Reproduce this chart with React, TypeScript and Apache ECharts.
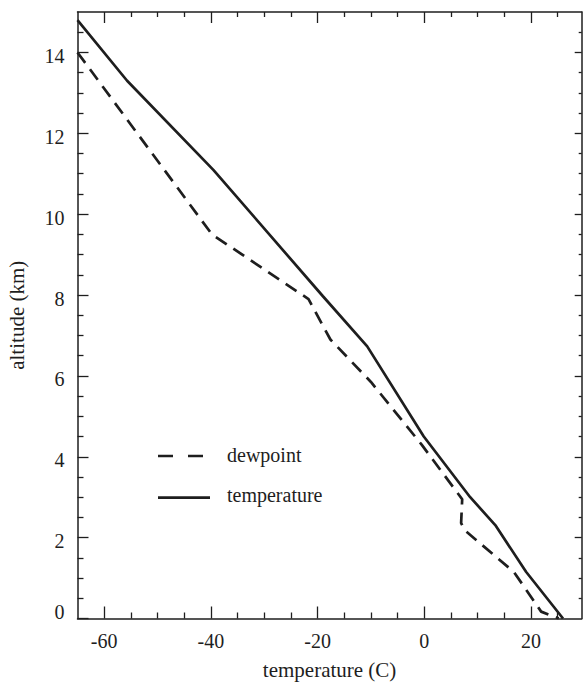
import React, { useEffect, useRef } from 'react';
import * as echarts from 'echarts';

// Tick values
const xMajorTicks = [-60, -40, -20, 0, 20];
const xMinorTicks = [-55, -50, -45, -35, -30, -25, -15, -10, -5, 5, 10, 15, 25];
const yMajorTicks = [0, 2, 4, 6, 8, 10, 12, 14];
const yMinorTicks = [0.5, 1, 1.5, 2.5, 3, 3.5, 4.5, 5, 5.5, 6.5, 7, 7.5, 8.5, 9, 9.5, 10.5, 11, 11.5, 12.5, 13, 13.5, 14.5];

// Temperature profile (solid)
const tempT = [-65, -55.7, -39.5, -19, -10.7, -0.1, 8.6, 13.3, 19.1, 26];
const tempAlt = [14.8, 13.3, 11.09, 7.97, 6.73, 4.5, 3.0, 2.31, 1.15, 0];

// Dewpoint profile (dashed)
const dewT = [-65, -39.8, -21.7, -17.6, -10, -0.5, 7.1, 6.9, 7.6, 16.8, 21.9, 25.2];
const dewAlt = [14.0, 9.5, 7.9, 6.9, 5.85, 4.3, 2.95, 2.36, 2.18, 1.15, 0.17, 0];

const seriesNames = ['dewpoint', 'temperature'];

const FONT = "'Liberation Serif', 'Times New Roman', Times, serif";
const INK = '#1e1e1e';

const X_MIN = -65;
const X_MAX = 29.5;
const Y_MIN = 0;
const Y_MAX = 15;

function xAxisDef(position: string, ticks: number[], len: number, main: boolean) {
  const labelled = main && position === 'bottom';
  return {
    type: 'value',
    position,
    min: X_MIN,
    max: X_MAX,
    gridIndex: 0,
    name: labelled ? 'temperature (C)' : '',
    nameLocation: 'middle',
    nameGap: 41,
    nameTextStyle: { fontFamily: FONT, fontSize: 21, color: INK },
    axisLine: { show: main, onZero: false, lineStyle: { color: INK, width: 1.5 } },
    axisTick: { show: true, inside: true, length: len, customValues: ticks, lineStyle: { color: INK, width: 1.3 } },
    axisLabel: labelled
      ? { show: true, customValues: xMajorTicks, margin: 12, fontFamily: FONT, fontSize: 20, color: INK }
      : { show: false },
    splitLine: { show: false },
  };
}

function yAxisDef(position: string, ticks: number[], len: number, main: boolean, hasLabel: boolean) {
  return {
    type: 'value',
    position,
    min: Y_MIN,
    max: Y_MAX,
    gridIndex: 0,
    name: hasLabel ? 'altitude (km)' : '',
    nameLocation: 'middle',
    nameGap: 50,
    nameRotate: 90,
    nameTextStyle: { fontFamily: FONT, fontSize: 21, color: INK },
    axisLine: { show: main, onZero: false, lineStyle: { color: INK, width: 1.5 } },
    axisTick: { show: true, inside: true, length: len, customValues: ticks, lineStyle: { color: INK, width: 1.3 } },
    axisLabel: hasLabel
      ? {
          show: true,
          customValues: yMajorTicks,
          margin: 13,
          fontFamily: FONT,
          fontSize: 20,
          color: INK,
          padding: [7, 0, 0, 0],
          formatter: (v: number) => (v === 0 ? '{z|0}' : String(v)),
          rich: { z: { fontFamily: FONT, fontSize: 20, color: INK, padding: [0, 0, 20, 0] } },
        }
      : { show: false },
    splitLine: { show: false },
  };
}

export default function App() {
  const ref = useRef<HTMLDivElement>(null);

  useEffect(() => {
    if (!ref.current) return;
    const chart = echarts.init(ref.current, undefined, { renderer: 'svg' });

    const tempData = tempT.map((t, i) => [t, tempAlt[i]]);
    const dewData = dewT.map((t, i) => [t, dewAlt[i]]);

    const option = {
      animation: false,
      backgroundColor: '#ffffff',
      textStyle: { fontFamily: FONT },
      grid: { left: 77.5, right: 3.3, top: 12, bottom: 63.5, containLabel: false, outerBoundsMode: 'none' },
      xAxis: [
        xAxisDef('bottom', xMajorTicks, 12, true),
        xAxisDef('bottom', xMinorTicks, 6, false),
        xAxisDef('top', xMajorTicks, 11, true),
        xAxisDef('top', xMinorTicks, 5, false),
      ],
      yAxis: [
        yAxisDef('left', yMajorTicks, 11, true, true),
        yAxisDef('left', yMinorTicks, 6, false, false),
        yAxisDef('right', yMajorTicks.filter((v) => v > 0), 7, true, false),
        yAxisDef('right', yMinorTicks, 3, false, false),
      ],
      series: [
        {
          name: seriesNames[0],
          type: 'line',
          xAxisIndex: 0,
          yAxisIndex: 0,
          data: dewData,
          showSymbol: false,
          symbol: 'none',
          lineStyle: { color: INK, width: 2.7, type: [13, 8], cap: 'butt' },
        },
        {
          name: seriesNames[1],
          type: 'line',
          xAxisIndex: 0,
          yAxisIndex: 0,
          data: tempData,
          showSymbol: false,
          symbol: 'none',
          lineStyle: { color: INK, width: 2.7, type: 'solid' },
        },
      ],
      graphic: [
        {
          type: 'line',
          shape: { x1: 158, y1: 456, x2: 210, y2: 456 },
          style: { stroke: INK, lineWidth: 2.7, lineDash: [15, 15] },
        },
        {
          type: 'text',
          x: 227,
          y: 455,
          style: { text: seriesNames[0], fontFamily: FONT, fontSize: 20, fill: INK, verticalAlign: 'middle', align: 'left' },
        },
        {
          type: 'line',
          shape: { x1: 158, y1: 497.7, x2: 210, y2: 497.7 },
          style: { stroke: INK, lineWidth: 2.7 },
        },
        {
          type: 'text',
          x: 227,
          y: 495,
          style: { text: seriesNames[1], fontFamily: FONT, fontSize: 20, fill: INK, verticalAlign: 'middle', align: 'left' },
        },
      ],
    };

    chart.setOption(option as any);
    return () => {
      chart.dispose();
    };
  }, []);

  return (
    <div
      ref={ref}
      style={{ position: 'fixed', left: 0, top: 0, width: 585, height: 682, background: '#fff' }}
    />
  );
}
